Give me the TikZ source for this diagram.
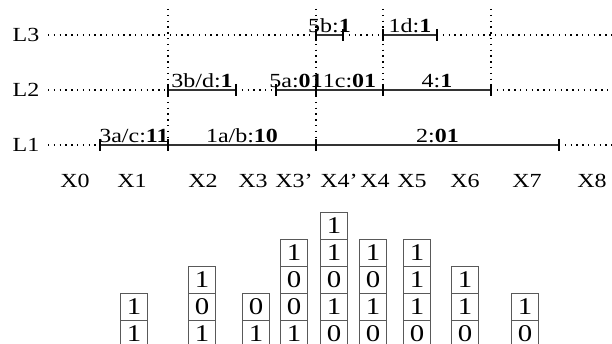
\documentclass[tikz,border=0pt]{standalone}
\usepackage{fontspec}
\setmainfont{Liberation Serif}[FakeStretch=1.2]

\begin{document}
\begin{tikzpicture}[x=1pt,y=1pt,yscale=-1,
  font=\fontsize{20}{24}\selectfont,
  dotline/.style={line width=1.4pt, dash pattern=on 1.4pt off 4.4pt},
  seg/.style={draw=black!80, line width=1.8pt},
  bar/.style={line width=1.3pt},
  lbl/.style={anchor=base, yshift=2.5pt, inner sep=0pt},
  bitbox/.style={draw=black!65, line width=0.8pt, minimum size=27pt, inner sep=0pt, font=\fontsize{24}{24}\selectfont}]
\useasboundingbox (0,0) rectangle (612,344);

% levels
\node (L3) at (26,35) {L3};
\node (L2) at (26,90) {L2};
\node (L1) at (26,145) {L1};

% break points on each level
\coordinate (l1s) at (48,145);  \coordinate (l1e) at (612,145);
\coordinate (l1a) at (100,145); \coordinate (l1b) at (168,145);
\coordinate (l1c) at (316,145); \coordinate (l1d) at (559,145);

\coordinate (l2s) at (48,90);   \coordinate (l2e) at (612,90);
\coordinate (l2a) at (168,90);  \coordinate (l2b) at (236,90);
\coordinate (l2c) at (276,90);  \coordinate (l2d) at (316,90);
\coordinate (l2f) at (383,90);  \coordinate (l2g) at (491,90);

\coordinate (l3s) at (48,35);   \coordinate (l3e) at (612,35);
\coordinate (l3a) at (316,35);  \coordinate (l3b) at (343,35);
\coordinate (l3c) at (383,35);  \coordinate (l3d) at (437,35);

\coordinate (v1) at (168,9);  \coordinate (v2) at (316,9);
\coordinate (v3) at (383,9);  \coordinate (v4) at (491,9);

% dotted gaps and split lines
\draw[dotline] (l1s) -- (l1a) (l1d) -- (l1e);
\draw[dotline] (l2s) -- (l2a) (l2b) -- (l2c) (l2g) -- (l2e);
\draw[dotline] (l3s) -- (l3a) (l3b) -- (l3c) (l3d) -- (l3e);
\draw[dotline] (v1) -- (l1b) (v2) -- (l1c) (v3) -- (l2f) (v4) -- (l2g);

% intervals
\draw[seg] (l1a) -- node[lbl] (s3ac) {3a/c:\textbf{11}} (l1b);
\draw[seg] (l1b) -- node[lbl] (s1ab) {1a/b:\textbf{10}} (l1c);
\draw[seg] (l1c) -- node[lbl] (s2) {2:\textbf{01}} (l1d);

\draw[seg] (l2a) -- node[lbl] (s3bd) {3b/d:\textbf{1}} (l2b);
\draw[seg] (l2c) -- node[lbl] (s5a) {5a:\textbf{01}} (l2d);
\draw[seg] (l2d) -- node[lbl] (s1c) {1c:\textbf{01}} (l2f);
\draw[seg] (l2f) -- node[lbl] (s4) {4:\textbf{1}} (l2g);

\draw[seg] (l3a) -- node[lbl] (s5b) {5b:\textbf{1}} (l3b);
\draw[seg] (l3c) -- node[lbl] (s1d) {1d:\textbf{1}} (l3d);

\foreach \p in {l1a,l1b,l1c,l1d,l2a,l2b,l2c,l2d,l2f,l2g,l3a,l3b,l3c,l3d}
  \draw[bar] (\p) ++(0,-6) -- ++(0,12);

% x positions
\foreach \n/\xx/\t in {x0/75/X0, x1/132/X1, x2/203/X2, x3/253/X3, x3p/294/X3', x4p/339/X4',
    x4/375/X4, x5/412/X5, x6/465/X6, x7/527/X7, x8/592/X8}
  \node[anchor=base] (\n) at (\xx,188) {\t};

% bit columns
\foreach \cx/\k/\bits in {134/3/{1,1}, 202/2/{1,0,1}, 256/3/{0,1}, 294/1/{1,0,0,1},
    334/0/{1,1,0,1,0}, 373/1/{1,0,1,0}, 417/1/{1,1,1,0}, 465/2/{1,1,0}, 525/3/{1,0}}
  \foreach \b [count=\i from \k] in \bits
    \node[bitbox] (b\cx-\i) at (\cx,{225.5+27*\i}) {\b};

\end{tikzpicture}
\end{document}
